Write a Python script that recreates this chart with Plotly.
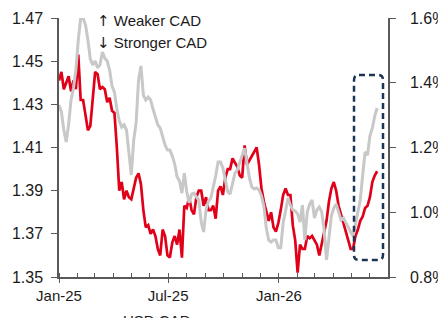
import pandas as pd
import plotly.graph_objects as go

# ---- data ----
dates = pd.date_range("2025-01-01", periods=133, freq="4D")

usdcad = [
    1.441, 1.445, 1.437, 1.440, 1.443, 1.436, 1.441, 1.437, 1.453, 1.432,
    1.432, 1.425, 1.418, 1.420, 1.434, 1.445, 1.444, 1.437, 1.438, 1.437,
    1.431, 1.433, 1.427, 1.426, 1.410, 1.390, 1.394, 1.386, 1.390, 1.387,
    1.386, 1.391, 1.396, 1.398, 1.393, 1.381, 1.373, 1.374, 1.370, 1.372,
    1.369, 1.363, 1.360, 1.372, 1.369, 1.360, 1.359, 1.366, 1.369, 1.365,
    1.372, 1.359, 1.383, 1.382, 1.387, 1.381, 1.379, 1.387, 1.390, 1.390,
    1.383, 1.387, 1.381, 1.381, 1.383, 1.377, 1.390, 1.392, 1.388, 1.396,
    1.400, 1.400, 1.405, 1.403, 1.401, 1.397, 1.396, 1.411, 1.402, 1.404,
    1.406, 1.408, 1.410, 1.402, 1.391, 1.385, 1.381, 1.376, 1.380, 1.373,
    1.371, 1.375, 1.381, 1.388, 1.391, 1.388, 1.388, 1.374, 1.367, 1.352,
    1.365, 1.363, 1.363, 1.369, 1.368, 1.369, 1.367, 1.365, 1.360, 1.365,
    1.371, 1.376, 1.385, 1.391, 1.394, 1.390, 1.383, 1.379, 1.374, 1.370,
    1.366, 1.363, 1.363, 1.369, 1.372, 1.376, 1.378, 1.382, 1.383, 1.387,
    1.394, 1.397, 1.399,
]

spread_pct = [
    1.331, 1.310, 1.254, 1.217, 1.273, 1.347, 1.384, 1.439, 1.532, 1.600,
    1.600, 1.578, 1.532, 1.473, 1.455, 1.467, 1.446, 1.455, 1.495, 1.476,
    1.467, 1.439, 1.390, 1.371, 1.319, 1.282, 1.263, 1.270, 1.254, 1.192,
    1.115, 1.223, 1.276, 1.409, 1.452, 1.362, 1.347, 1.356, 1.347, 1.319,
    1.297, 1.270, 1.260, 1.236, 1.208, 1.192, 1.192, 1.174, 1.149, 1.109,
    1.097, 1.059, 1.121, 1.063, 1.029, 1.056, 1.059, 1.047, 1.038, 0.970,
    0.939, 1.007, 1.035, 1.044, 1.075, 1.112, 1.155, 1.155, 1.137, 1.100,
    1.063, 1.056, 1.093, 1.121, 1.131, 1.152, 1.171, 1.198, 1.152, 1.106,
    1.078, 1.072, 1.075, 1.069, 1.050, 1.019, 0.951, 0.914, 0.908, 0.914,
    0.914, 0.890, 0.890, 0.967, 1.004, 1.044, 1.022, 1.007, 1.004, 0.995,
    0.970, 1.022, 0.914, 1.001, 1.025, 1.038, 0.982, 1.007, 1.016, 1.001,
    0.945, 0.853, 0.920, 0.988, 1.013, 1.025, 1.001, 0.976, 0.982, 0.970,
    0.954, 0.939, 0.927, 0.964, 1.007, 1.038, 1.115, 1.186, 1.177, 1.236,
    1.260, 1.297, 1.322,
]

x_tickvals = ["2025-01-01", "2025-07-01", "2026-01-01"]
x_ticktext = ["Jan-25", "Jul-25", "Jan-26"]
left_ticks = [1.35, 1.37, 1.39, 1.41, 1.43, 1.45, 1.47]
right_ticks = [0.8, 1.0, 1.2, 1.4, 1.6]
right_ticktext = ["0.8%", "1.0%", "1.2%", "1.4%", "1.6%"]

RED = "#e1001a"
GREY = "#c8c8c8"
AXIS = "#595959"
FONT = "Liberation Sans, Arial, sans-serif"
XRANGE = ["2025-01-01", "2026-07-01"]

fig = go.Figure()
fig.add_trace(go.Scatter(
    x=dates, y=spread_pct, yaxis="y2", mode="lines",
    line=dict(color=GREY, width=3), name="Spread (rhs)", legendrank=2,
))
fig.add_trace(go.Scatter(
    x=dates, y=usdcad, yaxis="y", mode="lines",
    line=dict(color=RED, width=2.7), name="USD CAD", legendrank=1,
))

fig.update_layout(
    width=438, height=318,
    margin=dict(l=59, r=50, t=18, b=41, autoexpand=False),
    paper_bgcolor="white", plot_bgcolor="white",
    font=dict(family=FONT, size=16, color="#1a1a1a"),
    showlegend=True,
    legend=dict(orientation="v", x=0.073, y=-0.105, xanchor="left", yanchor="top",
                font=dict(size=15), bgcolor="rgba(0,0,0,0)"),
    xaxis=dict(
        type="date", range=XRANGE,
        tickmode="array", tickvals=x_tickvals, ticktext=x_ticktext,
        ticks="outside", ticklen=4, tickcolor=AXIS, tickwidth=1,
        showline=True, linecolor=AXIS, linewidth=1.5,
        showgrid=False, zeroline=False,
        tickfont=dict(size=15),
        minor=dict(dtick="M1", tick0="2025-01-01", ticks="inside", ticklen=4,
                   tickcolor=AXIS, showgrid=False),
    ),
    xaxis2=dict(
        type="date", range=XRANGE, overlaying="x", side="bottom",
        tickmode="array", tickvals=x_tickvals, ticktext=["", "", ""],
        ticks="inside", ticklen=4, tickcolor=AXIS, tickwidth=1,
        showline=False, showgrid=False, zeroline=False, showticklabels=False,
    ),
    yaxis=dict(
        range=[1.35, 1.47], tickmode="array", tickvals=left_ticks,
        tickformat=".2f",
        ticks="outside", ticklen=6, tickcolor=AXIS, ticklabelstandoff=5,
        showline=True, linecolor=AXIS, linewidth=1.5,
        showgrid=False, zeroline=False,
    ),
    yaxis2=dict(
        range=[0.8, 1.6], tickmode="array", tickvals=right_ticks,
        ticktext=right_ticktext, ticklabeloverflow="allow",
        overlaying="y", side="right",
        ticks="outside", ticklen=6, tickcolor=AXIS, ticklabelstandoff=11,
        showline=True, linecolor=AXIS, linewidth=1.5,
        showgrid=False, zeroline=False,
    ),
)

ARW = '<span style="font-family:DejaVu Sans">{}</span>'
fig.add_annotation(xref="paper", yref="paper", x=(95 - 59) / 329, y=(277 - 21) / 259,
                   xanchor="left", yanchor="middle", showarrow=False,
                   text=ARW.format("↑") + " Weaker CAD", font=dict(size=15))
fig.add_annotation(xref="paper", yref="paper", x=(95 - 59) / 329, y=(277 - 43) / 259,
                   xanchor="left", yanchor="middle", showarrow=False,
                   text=ARW.format("↓") + " Stronger CAD", font=dict(size=15))

# dashed rounded highlight box (paper coordinates)
bx0, bx1 = (354 - 59) / 329, (383 - 59) / 329
by0, by1 = (277 - 260) / 259, (277 - 75) / 259
rx, ry = 5 / 329, 5 / 259
path = (f"M {bx0 + rx},{by1} L {bx1 - rx},{by1} Q {bx1},{by1} {bx1},{by1 - ry} "
        f"L {bx1},{by0 + ry} Q {bx1},{by0} {bx1 - rx},{by0} "
        f"L {bx0 + rx},{by0} Q {bx0},{by0} {bx0},{by0 + ry} "
        f"L {bx0},{by1 - ry} Q {bx0},{by1} {bx0 + rx},{by1} Z")
fig.add_shape(type="path", xref="paper", yref="paper", path=path,
              line=dict(color="#1d3554", width=2.5, dash="6px,4px"))

fig.write_html("out.html", config={"displayModeBar": False},
               post_script="document.body.style.margin='0';")
